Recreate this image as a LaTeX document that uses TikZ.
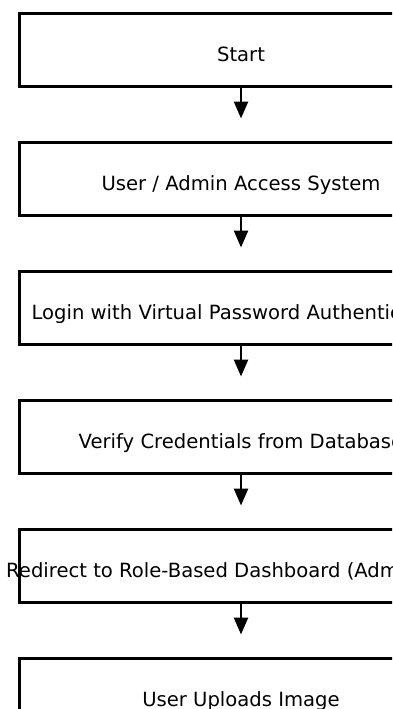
\documentclass[tikz,border=0pt]{standalone}
\usepackage{fontspec}
\setmainfont{DejaVu Sans}
\usetikzlibrary{arrows.meta}
\begin{document}
\begin{tikzpicture}[x=1pt,y=-1pt,
  stepbox/.style={draw=black,line width=3pt,minimum width=443pt,minimum height=72.5pt,inner sep=0pt,outer sep=0pt},
  steptext/.style={anchor=base,inner sep=0pt,font=\fontsize{19.6pt}{23pt}\selectfont},
  arr/.style={line width=2.6pt,-{Triangle[length=17pt,width=14pt]},shorten >=24pt}]
\useasboundingbox (0,0) rectangle (392,709);
\clip (0,0) rectangle (392,709);
\fill[white] (0,0) rectangle (392,709);
\node[stepbox] (b1) at (241,49.75) {};
\node[stepbox] (b2) at (241,178.75) {};
\node[stepbox] (b3) at (241,307.75) {};
\node[stepbox] (b4) at (241,436.75) {};
\node[stepbox] (b5) at (241,565.75) {};
\node[stepbox] (b6) at (241,694.75) {};
\node[steptext] (t1) at ([yshift=-11.5pt]b1.center) {Start};
\node[steptext] (t2) at ([yshift=-11.5pt]b2.center) {User / Admin Access System};
\node[steptext] (t3) at ([yshift=-11.5pt]b3.center) {Login with Virtual Password Authentication};
\node[steptext] (t4) at ([yshift=-11.5pt]b4.center) {Verify Credentials from Database};
\node[steptext] (t5) at ([yshift=-11.5pt]b5.center) {Redirect to Role-Based Dashboard (Admin/User)};
\node[steptext] (t6) at ([yshift=-11.5pt]b6.center) {User Uploads Image};
\draw[arr] (b1.south) -- (b2.north);
\draw[arr] (b2.south) -- (b3.north);
\draw[arr] (b3.south) -- (b4.north);
\draw[arr] (b4.south) -- (b5.north);
\draw[arr] (b5.south) -- (b6.north);
\end{tikzpicture}
\end{document}
